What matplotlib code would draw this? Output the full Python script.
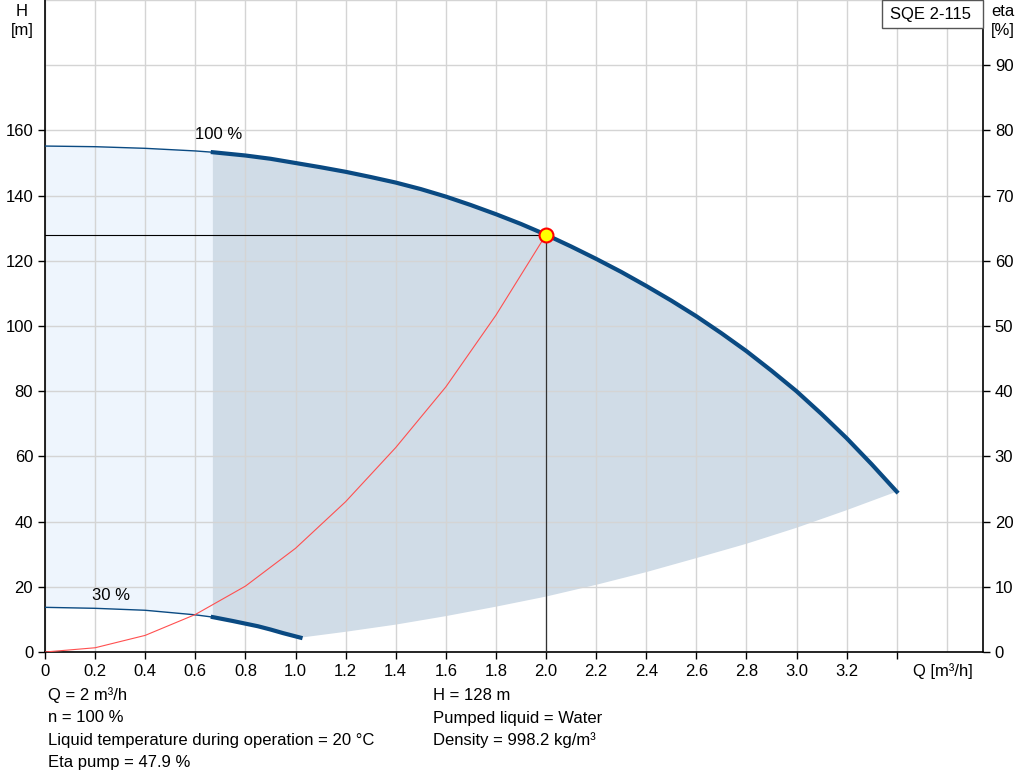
import matplotlib
matplotlib.use('Agg')
import matplotlib.pyplot as plt
from matplotlib.patches import Rectangle
import numpy as np

plt.rcParams['font.family'] = ['Liberation Sans', 'DejaVu Sans']
plt.rcParams['font.size'] = 12

# pump curve at 100 % speed
q100 = [0, 0.2, 0.4, 0.6, 0.67, 0.8, 0.9, 1.0, 1.1, 1.2, 1.3, 1.4, 1.5, 1.6, 1.7, 1.8, 1.9, 2.0,
        2.1, 2.2, 2.3, 2.4, 2.5, 2.6, 2.7, 2.8, 2.9, 3.0, 3.1, 3.2, 3.3, 3.4]
h100 = [155.2, 155.0, 154.5, 153.7, 153.3, 152.3, 151.3, 150.0, 148.7, 147.3, 145.7, 144.0,
        142.0, 139.7, 137.1, 134.3, 131.3, 128.0, 124.4, 120.6, 116.6, 112.3, 107.8, 103.0,
        97.8, 92.3, 86.3, 80.0, 73.0, 65.6, 57.6, 49.2]

# pump curve at 30 % speed
q30 = [0, 0.2, 0.4, 0.6, 0.67, 0.75, 0.8, 0.85, 0.9, 0.95, 1.02]
h30 = [13.7, 13.4, 12.8, 11.4, 10.7, 9.5, 8.7, 7.9, 6.9, 5.8, 4.4]

# lower limit of operating range
qmin = [1.02, 1.2, 1.4, 1.6, 1.8, 2.0, 2.2, 2.4, 2.6, 2.8, 3.0, 3.2, 3.4]
hmin = [4.4, 6.2, 8.4, 11.0, 13.9, 17.0, 20.6, 24.5, 28.8, 33.2, 38.1, 43.5, 49.2]

# system curve through duty point
qsys = [0, 0.2, 0.4, 0.6, 0.8, 1.0, 1.2, 1.4, 1.6, 1.8, 2.0]
hsys = [0, 1.3, 5.1, 11.5, 20.2, 31.8, 46.1, 62.7, 81.3, 103.3, 128.0]

q_duty = 2.0
h_duty = 128.0
q_split = 0.67

navy = '#0A4A82'

fig = plt.figure(figsize=(10.24, 7.81), dpi=100)
ax = fig.add_axes([45 / 1024, 1 - 652 / 781, 938 / 1024, 652 / 781])
ax.set_axisbelow('line')

q100a = np.array(q100)
h100a = np.array(h100)
q30a = np.array(q30)
h30a = np.array(h30)

# light region left of the split
m1 = q100a <= q_split
m2 = q30a <= q_split
ax.fill(np.concatenate([q100a[m1], q30a[m2][::-1]]),
        np.concatenate([h100a[m1], h30a[m2][::-1]]),
        color='#EEF5FD', lw=0, zorder=1)

# darker operating region
n1 = q100a >= q_split
n2 = q30a >= q_split
ax.fill(np.concatenate([q100a[n1], qmin[::-1], q30a[n2][::-1]]),
        np.concatenate([h100a[n1], hmin[::-1], h30a[n2][::-1]]),
        color='#D0DCE7', lw=0, zorder=1)

ax.plot(q100a[m1], h100a[m1], color=navy, lw=1, zorder=3)
ax.plot(q100a[n1], h100a[n1], color=navy, lw=3, zorder=3, solid_joinstyle='round')
ax.plot(q30a[m2], h30a[m2], color=navy, lw=1, zorder=3)
ax.plot(q30a[n2], h30a[n2], color=navy, lw=3, zorder=3, solid_joinstyle='round')

ax.plot(qsys, hsys, color='#FF5050', lw=0.8, zorder=3)
ax.plot([0, q_duty], [h_duty, h_duty], color='black', lw=0.8, zorder=3)
ax.plot([q_duty, q_duty], [0, h_duty], color='#333333', lw=0.9, zorder=3)
ax.plot(q_duty, h_duty, 'o', ms=10, mfc='#FFFF00', mec='#FF0000', mew=1.5, zorder=4)

ax.text(0.695, 158.8, '100 %', ha='center', va='center', fontsize=12)
ax.text(0.265, 17.3, '30 %', ha='center', va='center', fontsize=12)

ax.set_xlim(0, 938 / 250.5)
ax.set_ylim(0, 200)

xt = [0, 0.2, 0.4, 0.6, 0.8, 1.0, 1.2, 1.4, 1.6, 1.8, 2.0, 2.2, 2.4, 2.6, 2.8, 3.0, 3.2, 3.4]
xl = ['0'] + ['%.1f' % v for v in xt[1:-1]] + ['']
ax.set_xticks(xt)
ax.set_xticklabels(xl)
ax.set_xticks([3.6], minor=True)
ax.set_yticks([0, 20, 40, 60, 80, 100, 120, 140, 160])
ax.set_yticks([180, 200], minor=True)
ax.tick_params(which='major', direction='out', length=5, width=1, color='black', labelsize=12)
ax.tick_params(which='minor', length=0)
ax.grid(True, which='both', color='#D4D4D4', lw=1)

for s in ['top', 'right']:
    ax.spines[s].set_visible(False)
for s in ['left', 'bottom']:
    ax.spines[s].set_color('black')
    ax.spines[s].set_linewidth(1.2)

ax2 = ax.twinx()
ax2.set_ylim(0, 100)
ax2.set_yticks([0, 10, 20, 30, 40, 50, 60, 70, 80, 90])
ax2.tick_params(direction='out', length=5, width=1, color='black', labelsize=12)
for s in ['top', 'left', 'bottom']:
    ax2.spines[s].set_visible(False)
ax2.spines['right'].set_color('black')
ax2.spines['right'].set_linewidth(1.2)

# axis titles
fig.text(22 / 1024, 1 - 11 / 781, 'H', ha='center', va='center', fontsize=12)
fig.text(22 / 1024, 1 - 30 / 781, '[m]', ha='center', va='center', fontsize=12)
fig.text(1003 / 1024, 1 - 11 / 781, 'eta', ha='center', va='center', fontsize=12)
fig.text(1003 / 1024, 1 - 30 / 781, '[%]', ha='center', va='center', fontsize=12)
fig.text(943 / 1024, 1 - 671 / 781, 'Q [m³/h]', ha='center', va='center', fontsize=12)

# pump name box
fig.patches.append(Rectangle((882 / 1024, 1 - 28 / 781), 101 / 1024, 28 / 781,
                             transform=fig.transFigure, facecolor='white',
                             edgecolor='#555555', lw=1, zorder=5))
fig.text(930 / 1024, 1 - 14 / 781, 'SQE 2-115', ha='center', va='center', fontsize=12, zorder=6)

# duty point info
left_info = ['Q = 2 m³/h', 'n = 100 %', 'Liquid temperature during operation = 20 °C', 'Eta pump = 47.9 %']
right_info = ['H = 128 m', 'Pumped liquid = Water', 'Density = 998.2 kg/m³']
rows_y = [695, 718, 740, 762]
for i, t in enumerate(left_info):
    fig.text(48 / 1024, 1 - rows_y[i] / 781, t, ha='left', va='center', fontsize=12)
for i, t in enumerate(right_info):
    fig.text(433 / 1024, 1 - rows_y[i] / 781, t, ha='left', va='center', fontsize=12)

fig.savefig('out.png', dpi=100)
